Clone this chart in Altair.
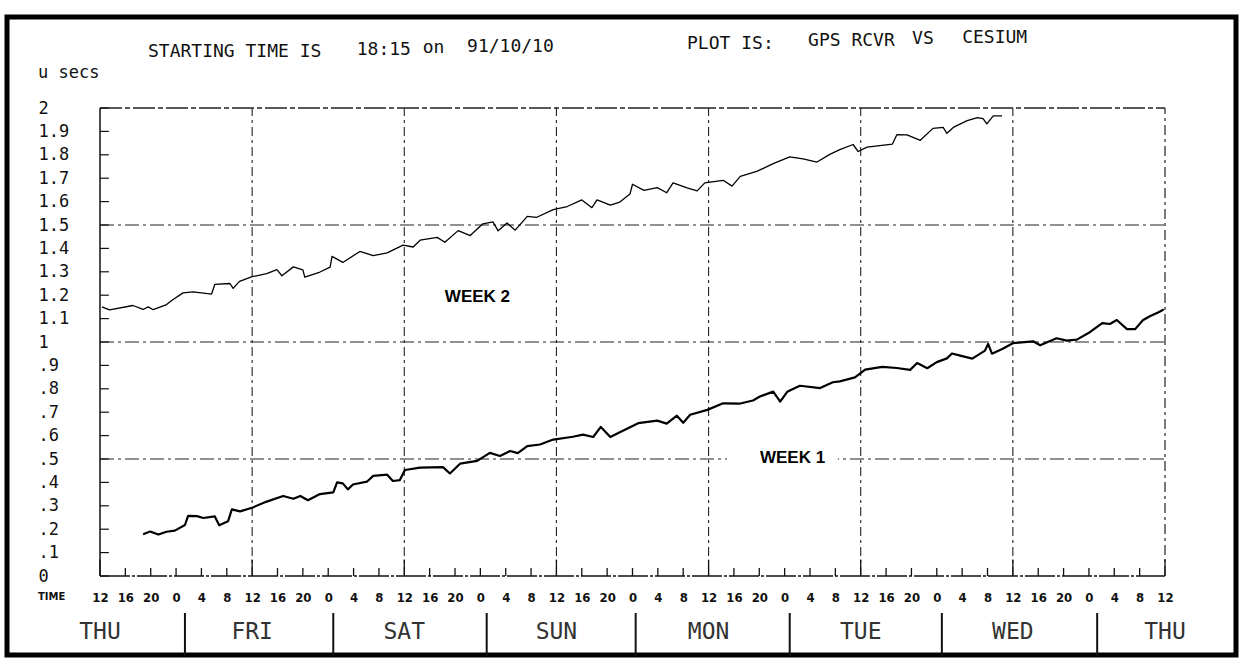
import altair as alt
import pandas as pd

# ---- data: hours after Thursday 12:00, offset in microseconds ----
WEEK2_H = [0.3, 1.5, 5.2, 6.8, 7.6, 8.4, 10.5, 11.3, 13.1, 14.7, 17.6, 18.1, 20.5, 21.0, 22.0,
           24.0, 26.3, 27.9, 28.7, 30.5, 32.0, 32.3, 34.7, 36.3, 36.6, 38.3, 41.0, 43.1, 45.3,
           47.8, 49.4, 50.5, 53.2, 54.4, 56.5, 58.4, 60.4, 62.0, 62.8, 64.2, 65.5, 67.4, 68.9,
           71.5, 73.7, 76.0, 77.6, 78.4, 80.5, 82.0, 83.6, 84.0, 85.8, 87.9, 89.4, 90.4, 92.6,
           94.2, 95.4, 98.3, 99.7, 101.0, 103.6, 106.2, 108.8, 110.9, 113.1, 115.2, 116.7,
           118.8, 119.6, 121.0, 125.0, 125.7, 127.3, 129.4, 131.4, 133.0, 133.6, 134.6, 136.8,
           138.4, 139.3, 139.9, 140.9, 142.3]
WEEK2_US = [1.150, 1.137, 1.156, 1.139, 1.150, 1.138, 1.160, 1.177, 1.210, 1.214, 1.205, 1.246,
            1.250, 1.229, 1.259, 1.279, 1.292, 1.309, 1.283, 1.321, 1.308, 1.277, 1.299, 1.320,
            1.366, 1.340, 1.387, 1.369, 1.381, 1.414, 1.406, 1.435, 1.447, 1.426, 1.476, 1.455,
            1.505, 1.513, 1.475, 1.509, 1.478, 1.537, 1.533, 1.566, 1.579, 1.607, 1.574, 1.607,
            1.585, 1.598, 1.632, 1.674, 1.648, 1.660, 1.638, 1.680, 1.659, 1.646, 1.680, 1.691,
            1.666, 1.708, 1.729, 1.762, 1.791, 1.783, 1.769, 1.803, 1.822, 1.844, 1.814, 1.833,
            1.846, 1.886, 1.885, 1.862, 1.913, 1.917, 1.892, 1.917, 1.946, 1.959, 1.955, 1.932,
            1.966, 1.966]

WEEK1_H = [6.8, 7.9, 9.2, 10.5, 11.8, 13.4, 13.9, 15.3, 16.3, 18.1, 18.8, 20.2, 20.8, 22.1,
           24.1, 26.3, 28.9, 30.5, 31.6, 32.8, 34.7, 36.8, 37.4, 38.3, 39.1, 39.9, 42.1, 43.1,
           45.3, 46.2, 47.3, 48.1, 50.5, 54.1, 55.2, 56.8, 59.5, 61.5, 63.1, 64.7, 65.9, 67.4,
           69.4, 71.5, 74.6, 76.2, 77.8, 79.0, 80.5, 82.0, 84.9, 87.9, 89.4, 91.0, 92.0, 93.1,
           95.8, 98.3, 101.0, 103.0, 104.1, 106.2, 107.3, 108.4, 110.4, 113.6, 115.6, 116.7,
           119.1, 120.7, 123.4, 125.7, 127.8, 128.9, 130.5, 132.0, 133.6, 134.4, 135.7, 137.6,
           139.6, 140.1, 140.7, 142.4, 144.0, 147.2, 148.3, 150.9, 152.5, 154.1, 156.2, 158.1,
           159.3, 160.4, 162.0, 163.3, 164.5, 165.6, 166.9, 167.8]
WEEK1_US = [0.178, 0.190, 0.177, 0.189, 0.194, 0.218, 0.257, 0.256, 0.248, 0.255, 0.217, 0.234,
            0.285, 0.276, 0.293, 0.318, 0.342, 0.330, 0.342, 0.324, 0.350, 0.357, 0.400, 0.396,
            0.370, 0.391, 0.403, 0.428, 0.433, 0.406, 0.410, 0.453, 0.463, 0.465, 0.438, 0.480,
            0.492, 0.526, 0.513, 0.534, 0.525, 0.555, 0.562, 0.583, 0.595, 0.604, 0.594, 0.637,
            0.594, 0.614, 0.653, 0.664, 0.651, 0.685, 0.655, 0.689, 0.710, 0.738, 0.737, 0.750,
            0.767, 0.788, 0.745, 0.787, 0.813, 0.803, 0.828, 0.832, 0.849, 0.882, 0.894, 0.889,
            0.881, 0.910, 0.888, 0.914, 0.930, 0.951, 0.942, 0.929, 0.963, 0.992, 0.950, 0.971,
            0.995, 1.003, 0.986, 1.016, 1.006, 1.010, 1.043, 1.081, 1.077, 1.094, 1.055, 1.055,
            1.093, 1.110, 1.126, 1.139]

Y_TICKS = [0, 0.1, 0.2, 0.3, 0.4, 0.5, 0.6, 0.7, 0.8, 0.9, 1.0,
           1.1, 1.2, 1.3, 1.4, 1.5, 1.6, 1.7, 1.8, 1.9, 2.0]
X_TICKS = [0, 4, 8, 12, 16, 20, 24, 28, 32, 36, 40, 44, 48, 52, 56, 60, 64, 68, 72, 76, 80, 84,
           88, 92, 96, 100, 104, 108, 112, 116, 120, 124, 128, 132, 136, 140, 144, 148, 152,
           156, 160, 164, 168]
NOON_HOURS = [0, 24, 48, 72, 96, 120, 144, 168]
DAY_NAMES = ["THU", "FRI", "SAT", "SUN", "MON", "TUE", "WED", "THU"]
DAY_DIVIDERS = [13.4, 36.8, 61.0, 84.5, 108.8, 132.8, 157.3]
H_GRID = [0.5, 1.0, 1.5]
V_GRID = [24, 48, 72, 96, 120, 144]

TITLE_TEXT = ["STARTING TIME IS", "18:15", "on", "91/10/10", "PLOT IS:", "GPS RCVR", "VS", "CESIUM"]
TITLE_H = [7.57, 40.5, 50.9, 57.9, 92.6, 111.7, 128.1, 136.0]
TITLE_V = [2.239, 2.248, 2.256, 2.261, 2.274, 2.286, 2.295, 2.299]

MONO = "DejaVu Sans Mono"
INK = "#111111"

# ---- scales & axes shared by every layer ----
XS = alt.Scale(domain=[0, 168], nice=False, zero=False)
YS = alt.Scale(domain=[0, 2], nice=False, zero=False)
X_AXIS = alt.Axis(values=X_TICKS, labelExpr="(datum.value + 12) % 24", ticks=False,
                  domain=False, grid=False, labelFont="DejaVu Sans Condensed",
                  labelFontWeight="bold", labelFontSize=13, labelColor=INK,
                  labelPadding=21, labelBaseline="middle", labelFlush=False,
                  labelOverlap=False, labelBound=False, title=None)
Y_AXIS = alt.Axis(values=Y_TICKS,
                  labelExpr="replace(format(datum.value, '.1~f'), regexp('^0[.]'), '.')",
                  ticks=False, domain=False, grid=False, labelFont=MONO, labelFontSize=17,
                  labelColor=INK, labelAlign="left", labelBaseline="middle",
                  labelPadding=62, labelFlush=False, labelOverlap=False, labelBound=False,
                  title=None)


def X(field):
    return alt.X(field, type="quantitative", scale=XS, axis=X_AXIS)


def Y(field):
    return alt.Y(field, type="quantitative", scale=YS, axis=Y_AXIS)


# ---- tables ----
week2 = pd.DataFrame({"h": WEEK2_H, "v": WEEK2_US})
week1 = pd.DataFrame({"h": WEEK1_H, "v": WEEK1_US})
hgrid = pd.DataFrame({"v": H_GRID, "h0": 0, "h1": 168})
vgrid = pd.DataFrame({"h": V_GRID, "v0": 0, "v1": 2})
top_edge = pd.DataFrame({"v": [2.0], "h0": [0], "h1": [168]})
right_edge = pd.DataFrame({"h": [168], "v0": [0], "v1": [2.0]})
left_axis = pd.DataFrame({"h": [0], "v0": [0], "v1": [2.0]})
bottom_axis = pd.DataFrame({"v": [0], "h0": [0], "h1": [168]})
yticks = pd.DataFrame({"v": Y_TICKS, "h0": 0, "h1": 1.4})
xticks = pd.DataFrame({"h": X_TICKS, "v0": 0,
                       "v1": [0.07 if h % 24 == 0 else 0.034 for h in X_TICKS]})
days = pd.DataFrame({"h": NOON_HOURS, "v": -0.239, "t": DAY_NAMES})
dividers = pd.DataFrame({"h": DAY_DIVIDERS, "v0": -0.158, "v1": -0.342})
titles = pd.DataFrame({"h": TITLE_H, "v": TITLE_V, "t": TITLE_TEXT})
frame = pd.DataFrame({"h0": [-14.67], "h1": [179.2], "v0": [2.389], "v1": [-0.338]})
unit_lbl = pd.DataFrame({"h": [-9.78], "v": [2.128], "t": ["u secs"]})
time_lbl = pd.DataFrame({"h": [-9.78], "v": [-0.0897], "t": ["TIME"]})
week_lbl = pd.DataFrame({"h": [54.4, 104.1], "v": [1.192, 0.504], "t": ["WEEK 2", "WEEK 1"]})
label_gap = pd.DataFrame({"h0": [98.9], "h1": [116.4], "v0": [0.47], "v1": [0.54]})

DASHDOT = [14, 4, 3, 4]

layers = [
    alt.Chart(frame).mark_rect(filled=False, stroke="black", strokeWidth=5).encode(
        x=X("h0"), x2=alt.X2("h1"), y=Y("v0"), y2=alt.Y2("v1")),
    alt.Chart(hgrid).mark_rule(color="#222", strokeWidth=1.1, strokeDash=DASHDOT).encode(
        y=Y("v"), x=X("h0"), x2=alt.X2("h1")),
    alt.Chart(vgrid).mark_rule(color="#222", strokeWidth=1.1, strokeDash=[9, 4, 3, 4]).encode(
        x=X("h"), y=Y("v0"), y2=alt.Y2("v1")),
    alt.Chart(top_edge).mark_rule(color="#222", strokeWidth=1.3, strokeDash=[22, 3, 5, 3]).encode(
        y=Y("v"), x=X("h0"), x2=alt.X2("h1")),
    alt.Chart(right_edge).mark_rule(color="#222", strokeWidth=1.2, strokeDash=[10, 4, 3, 4]).encode(
        x=X("h"), y=Y("v0"), y2=alt.Y2("v1")),
    alt.Chart(left_axis).mark_rule(color=INK, strokeWidth=1.5).encode(
        x=X("h"), y=Y("v0"), y2=alt.Y2("v1")),
    alt.Chart(bottom_axis).mark_rule(color=INK, strokeWidth=1.4, strokeDash=[30, 2, 3, 2]).encode(
        y=Y("v"), x=X("h0"), x2=alt.X2("h1")),
    alt.Chart(yticks).mark_rule(color=INK, strokeWidth=1.2).encode(
        y=Y("v"), x=X("h0"), x2=alt.X2("h1")),
    alt.Chart(xticks).mark_rule(color=INK, strokeWidth=1.3).encode(
        x=X("h"), y=Y("v0"), y2=alt.Y2("v1")),
    alt.Chart(label_gap).mark_rect(color="white").encode(
        x=X("h0"), x2=alt.X2("h1"), y=Y("v0"), y2=alt.Y2("v1")),
    alt.Chart(week2).mark_line(color="black", strokeWidth=1.3, strokeJoin="round").encode(
        x=X("h"), y=Y("v"), order="h:Q"),
    alt.Chart(week1).mark_line(color="black", strokeWidth=2.2, strokeJoin="round").encode(
        x=X("h"), y=Y("v"), order="h:Q"),
    alt.Chart(week_lbl).mark_text(align="left", baseline="middle", font="Liberation Sans",
                                  fontWeight="bold", fontSize=17, color="black").encode(
        x=X("h"), y=Y("v"), text="t:N"),
    alt.Chart(titles).mark_text(align="left", baseline="middle", font=MONO, fontSize=18,
                                color=INK).encode(
        x=X("h"), y=Y("v"), text="t:N"),
    alt.Chart(unit_lbl).mark_text(align="left", baseline="alphabetic", font=MONO, fontSize=17,
                                  color=INK).encode(
        x=X("h"), y=Y("v"), text="t:N"),
    alt.Chart(time_lbl).mark_text(align="left", baseline="middle", font="DejaVu Sans",
                                  fontWeight="bold", fontSize=10, color=INK).encode(
        x=X("h"), y=Y("v"), text="t:N"),
    alt.Chart(days).mark_text(align="center", baseline="middle", font=MONO, fontSize=23,
                              color="#333").encode(
        x=X("h"), y=Y("v"), text="t:N"),
    alt.Chart(dividers).mark_rule(color=INK, strokeWidth=2).encode(
        x=X("h"), y=Y("v0"), y2=alt.Y2("v1")),
]

chart = alt.layer(*layers).properties(
    width=1065,
    height=468,
    autosize=alt.AutoSizeParams(type="none"),
    padding={"left": 100, "top": 108, "right": 77, "bottom": 86},
    background="white",
).configure_view(strokeWidth=0)

chart.save("out.html", embed_options={"renderer": "svg", "actions": False})
